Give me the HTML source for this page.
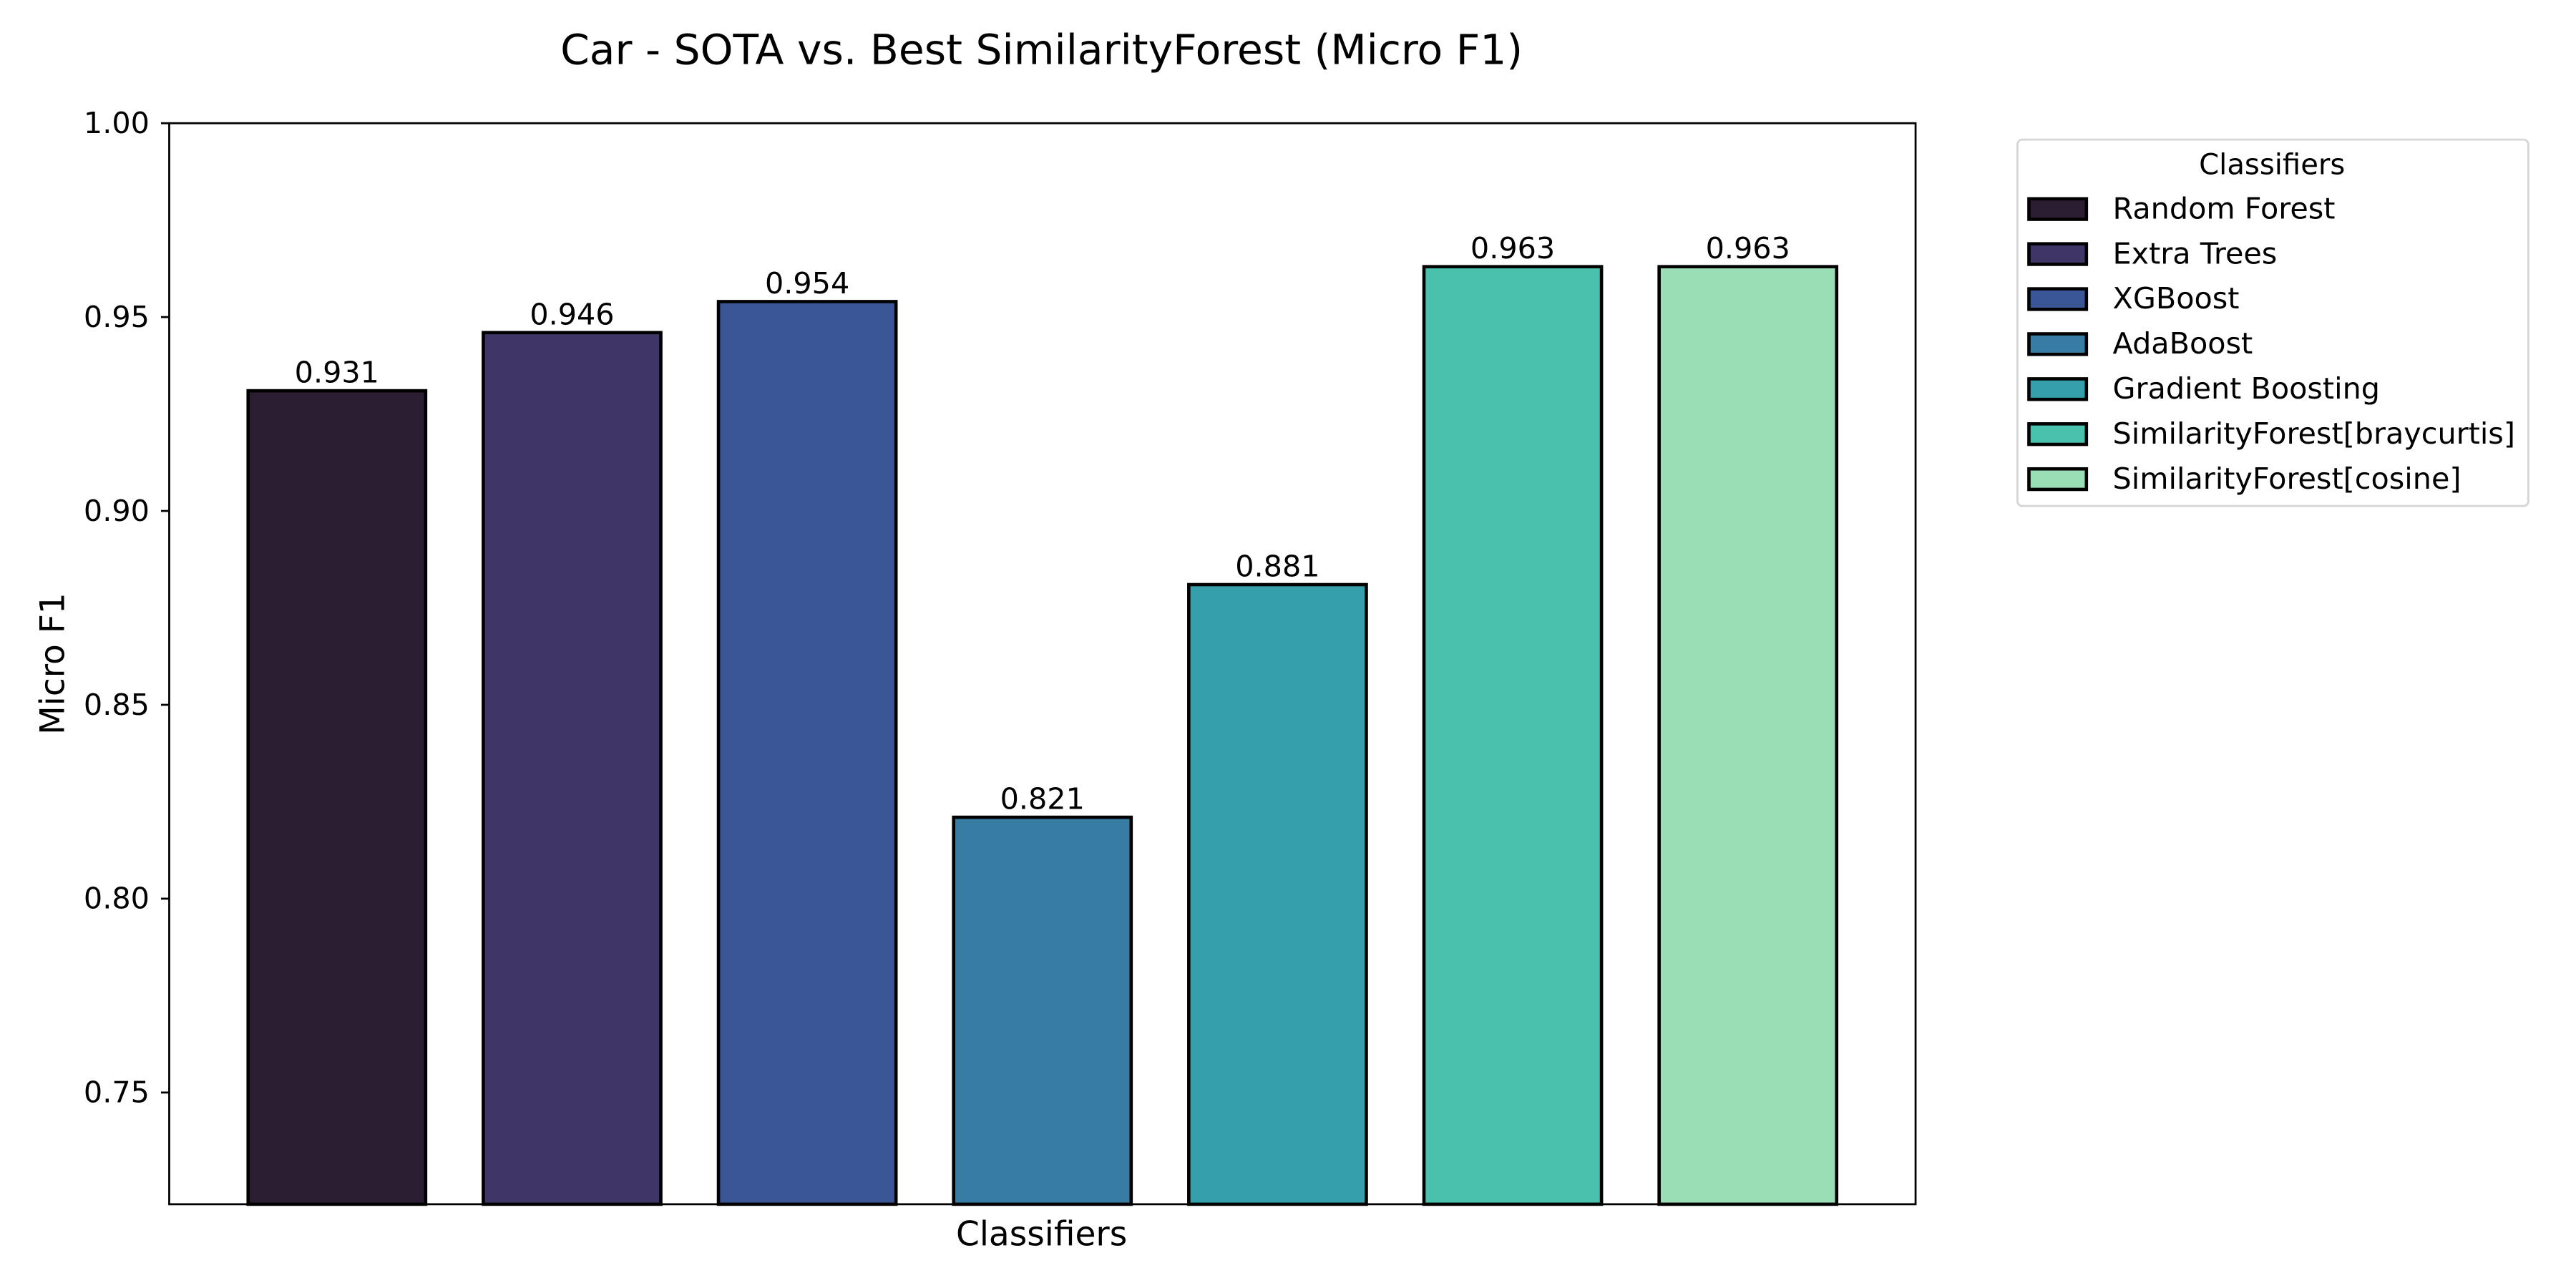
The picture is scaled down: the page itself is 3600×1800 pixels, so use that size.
<!DOCTYPE html>
<html><head><meta charset="utf-8"><style>
html,body{margin:0;padding:0;background:#fff;}
svg{display:block;font-family:"DejaVu Sans","Liberation Sans",sans-serif;}
</style></head><body>
<svg id="chart" width="3600" height="1800" viewBox="0 0 1568 784" xmlns="http://www.w3.org/2000/svg">
<rect width="1568" height="784" fill="#fff"/>
<text x="634" y="39" font-size="25.4" text-anchor="middle">Car - SOTA vs. Best SimilarityForest (Micro F1)</text>
<text transform="translate(39,404) rotate(-90)" font-size="20.5" text-anchor="middle">Micro F1</text>
<text x="634" y="758" font-size="20.5" text-anchor="middle">Classifiers</text>
<g id="ticks"></g>
<g id="bars"></g>
<rect x="103" y="75" width="1063" height="658" fill="none" stroke="#000" stroke-width="1.2"/>
<g id="legend">
<rect x="1228" y="85" width="311" height="223" rx="3" fill="#fff" stroke="#d5d5d5" stroke-width="1.2"/>
<text x="1383" y="106" font-size="17.5" text-anchor="middle">Classifiers</text>
</g>
</svg>
<script>
const categories = ["Random Forest","Extra Trees","XGBoost","AdaBoost","Gradient Boosting","SimilarityForest[braycurtis]","SimilarityForest[cosine]"];
const values = [0.931,0.946,0.954,0.821,0.881,0.963,0.963];
const valueLabels = ["0.931","0.946","0.954","0.821","0.881","0.963","0.963"];
const colors = ["#2b1e33","#3f3667","#3a5696","#377ca3","#35a0ab","#48c1ad","#9adeb5"];
const yTicks = [0.75,0.80,0.85,0.90,0.95,1.00];
const yTickLabels = ["0.75","0.80","0.85","0.90","0.95","1.00"];

const NS="http://www.w3.org/2000/svg";
const plot={l:103,r:1166,t:75,b:733};
const yMin=0.7212,yMax=1.0;
function yScale(v){return plot.b-(v-yMin)/(yMax-yMin)*(plot.b-plot.t);}
const step=(plot.r-plot.l)/(categories.length-1+2*0.713);
function xScale(i){return plot.l+step*(0.713+i);}
const barW=step*0.755;
function mk(tag,attrs,parent){const e=document.createElementNS(NS,tag);for(const k in attrs)e.setAttribute(k,attrs[k]);parent.appendChild(e);return e;}

const tg=document.getElementById('ticks');
yTicks.forEach((v,i)=>{
  const y=yScale(v);
  const l=mk('line',{x1:plot.l-5,x2:plot.l,y1:y,y2:y,stroke:'#000','stroke-width':1.2},tg);
  
  
  const t=mk('text',{x:plot.l-12,y:y+6,'font-size':18,'text-anchor':'end'},tg);
  
  
  t.textContent=yTickLabels[i];
});

const bg=document.getElementById('bars');
categories.forEach((c,i)=>{
  const x=xScale(i)-barW/2, y=yScale(values[i]);
  const r=mk('rect',{x:x,y:y,width:barW,height:plot.b-y,fill:colors[i],stroke:'#000','stroke-width':2},bg);
  
  
  const t=mk('text',{x:xScale(i),y:y-5,'font-size':18,'text-anchor':'middle'},bg);
  
  
  t.textContent=valueLabels[i];
});

const lg=document.getElementById('legend');
categories.forEach((c,i)=>{
  const cy=127+i*27.4;
  const r=mk('rect',{x:1235,y:cy-6,width:35,height:12.5,fill:colors[i],stroke:'#000','stroke-width':2},lg);
  
  
  const t=mk('text',{x:1286,y:cy+6,'font-size':18},lg);
  
  
  t.textContent=c;
});
</script>
</body></html>
